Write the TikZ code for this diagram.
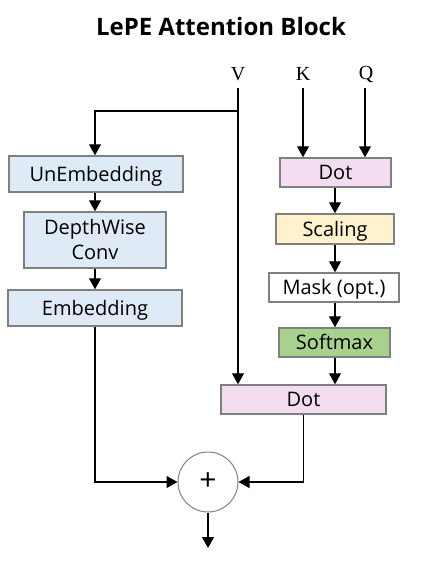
\documentclass[tikz,border=0pt]{standalone}
\usepackage{fontspec}
\setmainfont{Open Sans}
\newfontfamily\lblfont{Liberation Serif}
\usetikzlibrary{arrows.meta}
\definecolor{bblue}{RGB}{222,235,247}
\definecolor{bpink}{RGB}{242,220,240}
\definecolor{byellow}{RGB}{255,242,204}
\definecolor{bgreen}{RGB}{169,209,142}
\definecolor{bgray}{RGB}{128,128,128}
\begin{document}
\begin{tikzpicture}[x=1pt,y=-1pt,
  box/.style={draw=bgray,line width=1.5pt,inner sep=0pt,font=\fontsize{20}{25}\selectfont,align=center,text height=14.3pt,text depth=0pt},
  lbl/.style={font=\lblfont\fontsize{20}{22}\selectfont,inner sep=0pt},
  conn/.style={line width=1.2pt,-{Triangle[length=11pt,width=12pt]}},
  seg/.style={line width=1.2pt}]
\useasboundingbox (0,0) rectangle (442,562);
\node[font=\bfseries\fontsize{24}{28}\selectfont] (title) at (221,26) {LePE Attention Block};
\node[lbl] (V) at (238,74) {V};
\node[lbl] (K) at (303,74) {K};
\node[lbl] (Q) at (366,74) {Q};
\node[box,fill=bblue,minimum width=174pt,minimum height=36pt] (unemb) at (96,174) {UnEmbedding};
\node[box,fill=bblue,minimum width=142pt,minimum height=56pt,text height=39.3pt] (dw) at (95,240) {DepthWise\\Conv};
\node[box,fill=bblue,minimum width=174pt,minimum height=36pt] (emb) at (95,308) {Embedding};
\node[box,fill=bpink,minimum width=111pt,minimum height=29pt] (dot1) at (335.5,172.5) {Dot};
\node[box,fill=byellow,minimum width=118pt,minimum height=30pt] (scal) at (335,229) {Scaling};
\node[box,fill=white,minimum width=130pt,minimum height=29pt] (mask) at (334,287.5) {Mask (opt.)};
\node[box,fill=bgreen,minimum width=111pt,minimum height=29pt] (soft) at (334.5,342.5) {Softmax};
\node[box,fill=bpink,minimum width=165pt,minimum height=29pt] (dot2) at (303.5,399.5) {Dot};
\node[draw=bgray,line width=1pt,circle,minimum size=60pt,inner sep=0pt,font=\fontsize{30}{30}\selectfont] (plus) at (208,482) {+};
\coordinate (Vt) at (238,88);
\coordinate (Kt) at (303,88);
\coordinate (Qt) at (365,88);
\coordinate (br) at (238,111);
\coordinate (out) at (208,548);
\draw[conn] (Vt) -- (Vt |- dot2.north);
\draw[conn] (br) -- (95,111) -- (95,0 |- unemb.north);
\draw[conn] (95,0 |- unemb.south) -- (95,0 |- dw.north);
\draw[conn] (dw.south) -- (95,0 |- emb.north);
\draw[conn] (emb.south) |- (plus.west);
\draw[conn] (Kt) -- (Kt |- dot1.north);
\draw[conn] (Qt) -- (Qt |- dot1.north);
\draw[conn] (335,0 |- dot1.south) -- (335,0 |- scal.north);
\draw[conn] (335,0 |- scal.south) -- (335,0 |- mask.north);
\draw[conn] (335,0 |- mask.south) -- (335,0 |- soft.north);
\draw[conn] (335,0 |- soft.south) -- (335,0 |- dot2.north);
\draw[conn] (dot2.south) |- (plus.east);
\draw[conn] (plus.south) -- (out);
\end{tikzpicture}
\end{document}
